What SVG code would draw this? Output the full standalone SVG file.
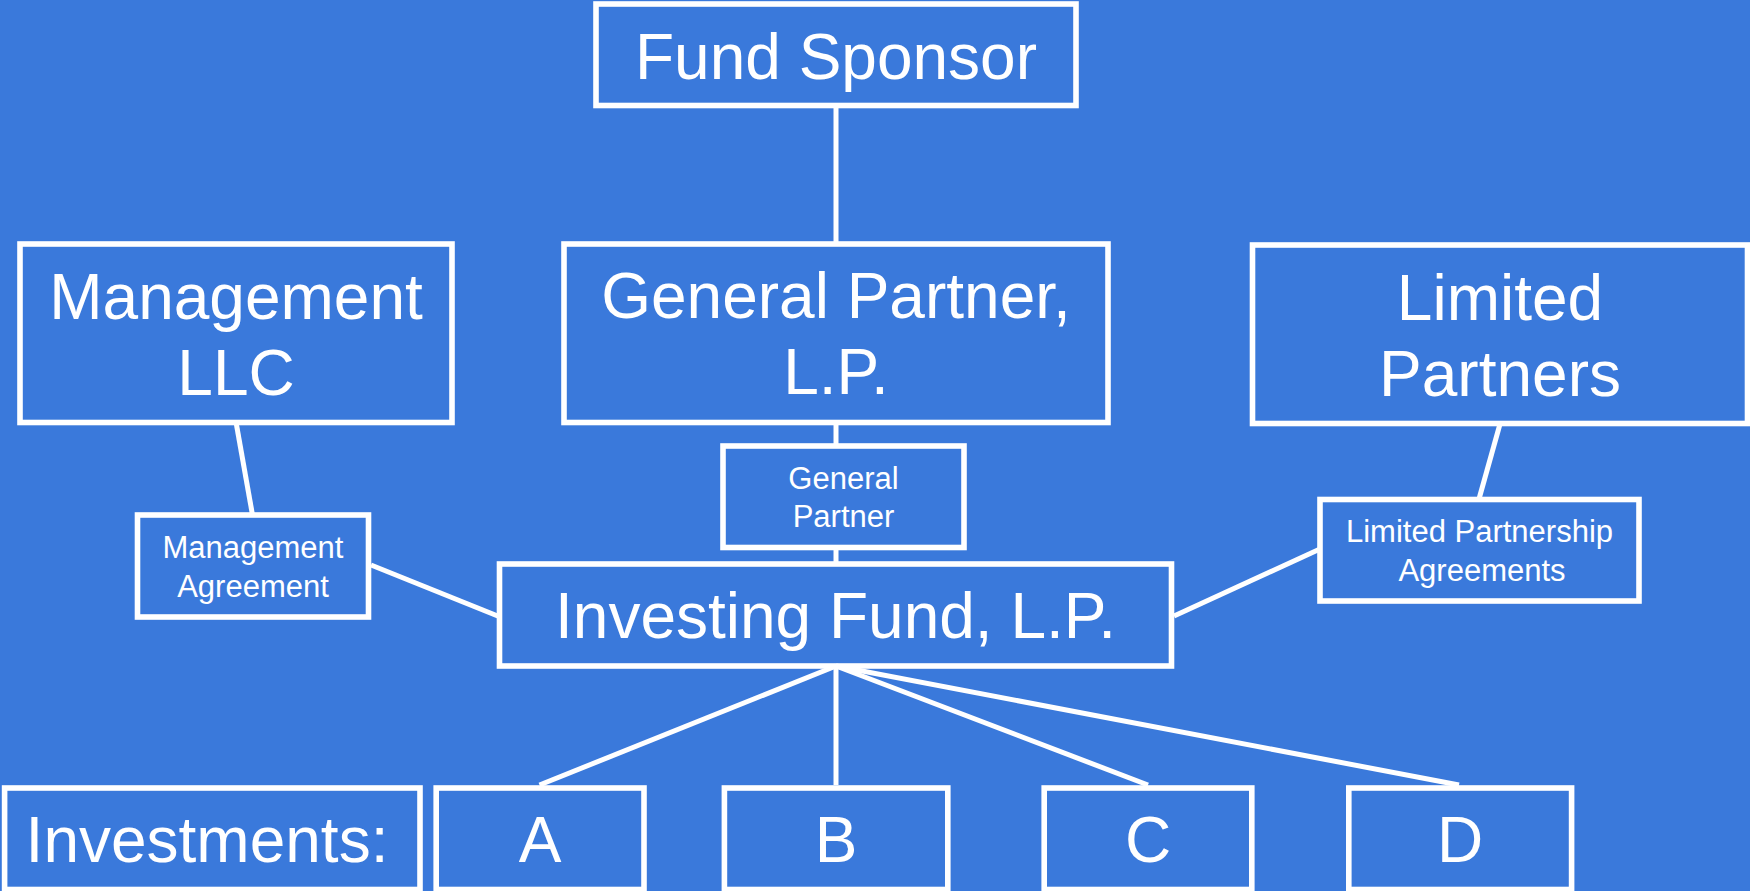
<svg xmlns="http://www.w3.org/2000/svg" width="1750" height="891" viewBox="0 0 1750 891">
<style>
.box{fill:none;stroke:#fff;stroke-width:5.6}
.big{font-family:"Liberation Sans",Arial,sans-serif;font-size:64px;fill:#fff;text-anchor:middle}
.small{font-family:"Liberation Sans",Arial,sans-serif;font-size:31px;fill:#fff;text-anchor:middle}
.conn line{stroke:#fff;stroke-width:5}
</style>
<rect x="0" y="0" width="1750" height="891" fill="#3a79db"/>
<g id="connectors" class="conn">
<line x1="836" y1="108" x2="836" y2="244"/>
<line x1="836" y1="422" x2="836" y2="446"/>
<line x1="836" y1="547" x2="836" y2="564"/>
<line x1="236" y1="422" x2="252.5" y2="515"/>
<line x1="371" y1="565" x2="499" y2="616.5"/>
<line x1="1500" y1="424" x2="1479" y2="499"/>
<line x1="1320" y1="549" x2="1174" y2="616"/>
<line x1="836" y1="666" x2="539.5" y2="785"/>
<line x1="836" y1="666" x2="836" y2="785"/>
<line x1="836" y1="666" x2="1148" y2="785"/>
<line x1="836" y1="666" x2="1459" y2="785"/>
</g>
<g id="fund-sponsor">
<rect class="box" x="596" y="4" width="480" height="101.5"/>
<text class="big" x="836" y="79">Fund Sponsor</text>
</g>
<g id="management-llc">
<rect class="box" x="20" y="244" width="432" height="178.5"/>
<text class="big" x="236" y="319">Management</text>
<text class="big" x="236" y="395">LLC</text>
</g>
<g id="general-partner-lp">
<rect class="box" x="564" y="244" width="544" height="178.5"/>
<text class="big" x="836" y="318">General Partner,</text>
<text class="big" x="836" y="394">L.P.</text>
</g>
<g id="limited-partners">
<rect class="box" x="1252.5" y="245" width="495" height="178.5"/>
<text class="big" x="1500" y="320">Limited</text>
<text class="big" x="1500" y="395.5">Partners</text>
</g>
<g id="management-agreement">
<rect class="box" x="137.5" y="515" width="231" height="102"/>
<text class="small" x="253" y="558">Management</text>
<text class="small" x="253" y="596.5">Agreement</text>
</g>
<g id="general-partner">
<rect class="box" x="723" y="446" width="241" height="101.5"/>
<text class="small" x="843.5" y="489">General</text>
<text class="small" x="843.5" y="526.5">Partner</text>
</g>
<g id="lp-agreements">
<rect class="box" x="1320" y="499.5" width="319" height="101.5"/>
<text class="small" x="1479.5" y="542">Limited Partnership</text>
<text class="small" x="1482" y="580.5">Agreements</text>
</g>
<g id="investing-fund">
<rect class="box" x="499.5" y="564" width="672" height="102"/>
<text class="big" x="835.5" y="638">Investing Fund, L.P.</text>
</g>
<g id="investments-label">
<rect class="box" x="4.6" y="788" width="415.4" height="101.5"/>
<text class="big" x="207" y="862">Investments:</text>
</g>
<g id="investment-a">
<rect class="box" x="436.2" y="788" width="207.8" height="101.5"/>
<text class="big" x="540" y="862">A</text>
</g>
<g id="investment-b">
<rect class="box" x="724.4" y="788" width="223.4" height="101.5"/>
<text class="big" x="836" y="862">B</text>
</g>
<g id="investment-c">
<rect class="box" x="1044.2" y="788" width="207.6" height="101.5"/>
<text class="big" x="1148" y="862">C</text>
</g>
<g id="investment-d">
<rect class="box" x="1348.8" y="788" width="222.8" height="101.5"/>
<text class="big" x="1460" y="862">D</text>
</g>
</svg>
